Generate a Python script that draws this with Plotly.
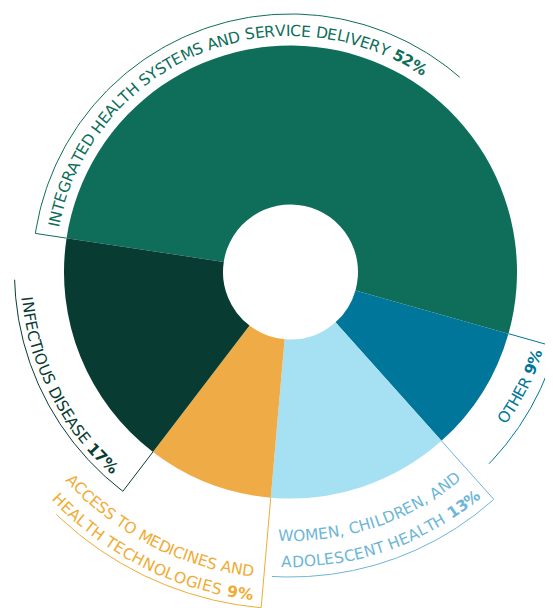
import numpy as np
import plotly.graph_objects as go

# ---------------- data ----------------
categories = [
    "Integrated health systems and service delivery",
    "Other",
    "Women, children, and adolescent health",
    "Access to medicines and health technologies",
    "Infectious disease",
]
values = [52, 9, 13, 9, 17]
label_lines = [
    ["INTEGRATED HEALTH SYSTEMS AND SERVICE DELIVERY"],
    ["OTHER"],
    ["WOMEN, CHILDREN, AND", "ADOLESCENT HEALTH"],
    ["ACCESS TO MEDICINES AND", "HEALTH TECHNOLOGIES"],
    ["INFECTIOUS DISEASE"],
]

# ---------------- style ----------------
slice_colors = ["#0E6E5A", "#00769A", "#A6E0F3", "#EFAC46", "#083C32"]
text_colors = ["#0E6E5A", "#00769A", "#6DB6D8", "#F0AC32", "#083C32"]

PAGE_W, PAGE_H = 553, 608
OFF = 8                      # browser body margin
W, H = PAGE_W - OFF, PAGE_H - OFF
CX, CY, R = 290.5, 272.0, 226.5   # in page pixels
HOLE = 0.298
START_DEG = 171.4  # math angle where the first slice starts
FS = 15.5
FONT = "DejaVu Sans"

label_style = [
    dict(lines=[(241.0, 169.2, 55.9)], arc_r=258, arc_end=49.0),
    dict(lines=[(259.0, -35.4, -17.5)], arc_r=276, arc_end=-44.0),
    dict(lines=[(264.0, -92.8, -50.4), (290.0, -91.8, -49.6)], arc_r=305, arc_end=-93.5),
    dict(lines=[(302.0, 222.8, 263.1), (325.0, 223.5, 263.5)], arc_r=337, arc_end=-134.0),
    dict(lines=[(265.0, 185.5, 228.7)], arc_r=276, arc_end=-178.4),
]

REG = {' ': 0.318, 'A': 0.684, 'B': 0.686, 'C': 0.698, 'D': 0.770, 'E': 0.632,
       'F': 0.575, 'G': 0.775, 'H': 0.752, 'I': 0.295, 'L': 0.557, 'M': 0.863,
       'N': 0.748, 'O': 0.787, 'P': 0.603, 'R': 0.695, 'S': 0.635, 'T': 0.611,
       'U': 0.732, 'V': 0.684, 'W': 0.989, 'Y': 0.611, ',': 0.318, '%': 0.950}
BOLD = {' ': 0.348, '%': 1.002}
for d in "0123456789":
    REG[d] = 0.636
    BOLD[d] = 0.696

fig = go.Figure()

fig.add_trace(go.Pie(
    values=values, labels=categories, sort=False, direction="clockwise",
    rotation=90 - START_DEG, hole=HOLE, textinfo="none",
    marker=dict(colors=slice_colors, line=dict(width=0)),
    domain=dict(x=[(CX - R - OFF) / W, (CX + R - OFF) / W],
                y=[1 - (CY + R - OFF) / H, 1 - (CY - R - OFF) / H]),
    showlegend=False, hoverinfo="label+percent",
))

cum = np.concatenate([[0], np.cumsum(values)]) / np.sum(values) * 360.0
bounds = START_DEG - cum

annotations = []


def place_line(segments, r_mid, a0, a1, color):
    chars = [(ch, b) for txt, b in segments for ch in txt]
    widths = [FS * (BOLD if b else REG).get(ch, 0.65) for ch, b in chars]
    total = sum(widths)
    span_px = abs(a1 - a0) * np.pi / 180 * r_mid
    k = span_px / total
    sign = 1 if a1 > a0 else -1
    s = 0.0
    for (ch, b), w in zip(chars, widths):
        c = s + w / 2
        s += w
        if ch == ' ':
            continue
        th = a0 + sign * np.degrees(c * k / r_mid)
        x = CX + r_mid * np.cos(np.radians(th))
        y = CY - r_mid * np.sin(np.radians(th))
        ang = (90 - th) if sign < 0 else -(th + 90)
        ang = (ang + 180) % 360 - 180
        annotations.append(dict(
            x=x, y=y, xref="x", yref="y", text=ch, showarrow=False,
            textangle=ang, xanchor="center", yanchor="middle",
            font=dict(family=FONT, size=FS, color=color, weight="bold" if b else "normal"),
        ))


for i, (lines, st) in enumerate(zip(label_lines, label_style)):
    col = text_colors[i]
    for j, (line, (rm, a0, a1)) in enumerate(zip(lines, st["lines"])):
        segs = [(line, False)]
        if j == len(lines) - 1:
            segs += [(" ", True), (f"{values[i]}%", True)]
        place_line(segs, rm, a0, a1, col)
    th = np.radians(np.linspace(bounds[i], st["arc_end"], 120))
    xs = [CX + R * np.cos(np.radians(bounds[i]))] + list(CX + st["arc_r"] * np.cos(th))
    ys = [CY - R * np.sin(np.radians(bounds[i]))] + list(CY - st["arc_r"] * np.sin(th))
    fig.add_trace(go.Scatter(x=xs, y=ys, mode="lines", line=dict(color=col, width=1),
                             showlegend=False, hoverinfo="skip", cliponaxis=True))

fig.update_layout(
    width=W, height=H, margin=dict(l=0, r=0, t=0, b=0),
    paper_bgcolor="white", plot_bgcolor="white",
    xaxis=dict(range=[OFF, PAGE_W], visible=False, fixedrange=True),
    yaxis=dict(range=[PAGE_H, OFF], visible=False, fixedrange=True),
    annotations=annotations,
)

fig.write_html("out.html")
